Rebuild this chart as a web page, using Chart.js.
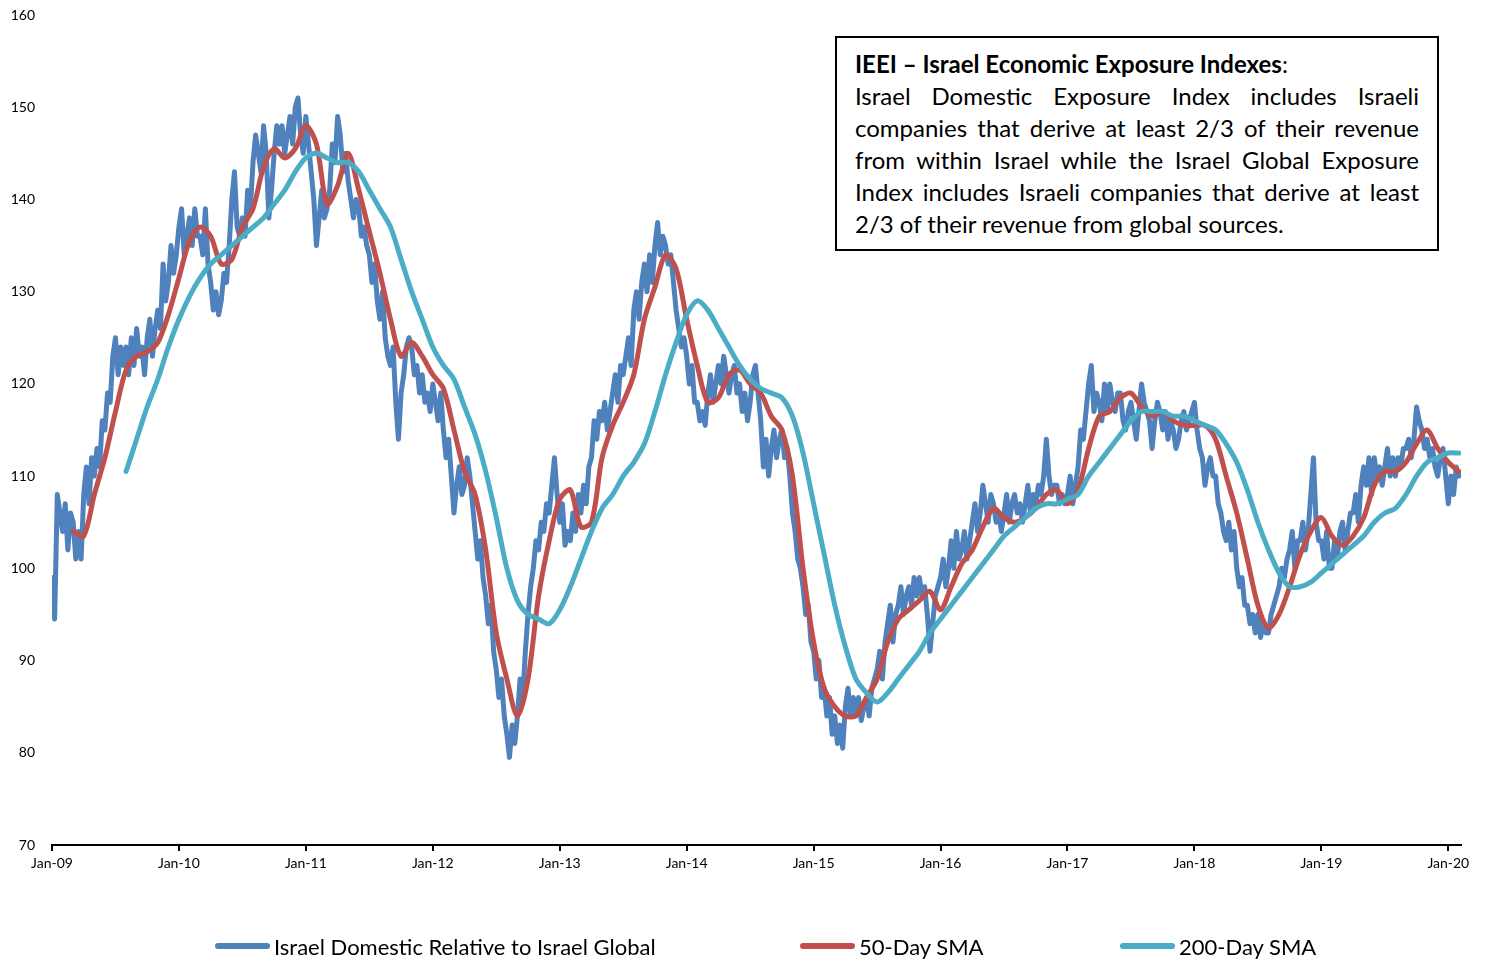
<!DOCTYPE html>
<html>
<head>
<meta charset="utf-8">
<script src="https://cdn.jsdelivr.net/npm/chart.js@4.4.1/dist/chart.umd.min.js"></script>
<style>
  body { margin: 0; background: #fff; }
  #wrap { position: relative; width: 1486px; height: 961px; font-family: Lato, "Open Sans", sans-serif; color: #000; }
  #lineChart { position: absolute; left: 0; top: 0; }
  .note { position: absolute; left: 835px; top: 36px; width: 604px; height: 215px; box-sizing: border-box;
          border: 2px solid #000; padding: 10px 18px 0 18px; font-size: 24px; background: #fff; }
  .note div { line-height: 32px; white-space: nowrap; }
  .note .j { text-align: justify; text-align-last: justify; }
  .legend-item { position: absolute; top: 933px; height: 26px; display: flex; align-items: center; font-size: 22px; }
  .legend-item span.sw { display: inline-block; width: 55px; height: 6px; border-radius: 3px; margin-right: 4px; }
</style>
</head>
<body>
<div id="wrap">
  <canvas id="lineChart" width="1486" height="961"></canvas>
  <div class="note">
    <div><b>IEEI – Israel Economic Exposure Indexes</b>:</div>
    <div class="j">Israel Domestic Exposure Index includes Israeli</div>
    <div class="j">companies that derive at least 2/3 of their revenue</div>
    <div class="j">from within Israel while the Israel Global Exposure</div>
    <div class="j">Index includes Israeli companies that derive at least</div>
    <div>2/3 of their revenue from global sources.</div>
  </div>
  <div id="legend"></div>
</div>
<script>
// x axis tick labels, one per January
const tickLabels = ['Jan-09', 'Jan-10', 'Jan-11', 'Jan-12', 'Jan-13', 'Jan-14',
                    'Jan-15', 'Jan-16', 'Jan-17', 'Jan-18', 'Jan-19', 'Jan-20'];

const seriesNames = ['Israel Domestic Relative to Israel Global', '50-Day SMA', '200-Day SMA'];
const seriesColors = ['#4F81BD', '#C0504D', '#4BACC6'];

// ratio index, read about weekly (4 per month) starting Jan 2009, one row per year
const domesticStart = 2009;
const domestic = [
  99, 94.5, 108, 106, 104, 107, 102, 106, 105, 101, 104, 101, 108, 111, 107, 112, 110, 113, 111, 116, 115, 119, 118, 123,
  125, 121, 124, 122, 124, 121, 125, 122, 126, 123, 124, 121, 125, 127, 123, 126, 128, 126, 133, 129, 131, 135, 132, 134,

  137, 139, 134, 136, 138, 135, 139, 136, 136, 134, 139, 133, 131, 128, 130, 127.5, 129, 132, 131, 135, 140, 143, 137, 136,
  138, 136, 141, 139, 144, 147, 145, 143, 148, 145, 138, 141, 145, 148, 146, 148, 145, 147, 149, 146, 150, 151, 147, 145,

  149, 146, 143, 140, 135, 138, 141, 138, 139, 141, 146, 144, 149, 147, 143, 145, 142, 140, 138, 140, 139, 136, 137, 135,
  134, 131, 133, 129, 127, 130, 125, 123, 122, 124, 118, 114, 119, 121, 124, 125, 124, 121, 122, 119, 121, 118, 119, 117,

  120, 118, 116, 119, 115, 112, 114, 110, 106, 109, 111, 108, 109, 112, 110, 107, 104, 101, 103, 99, 97, 94, 96, 91,
  89, 86, 88, 84, 82, 79.5, 83, 81, 84, 88, 86, 91, 95, 98, 100, 103, 102, 105, 104, 107, 106, 109, 112, 108,

  105, 107, 102.5, 104, 103, 106, 104, 108, 106, 109, 107, 111, 112, 116, 114, 117, 116, 118, 115, 117, 119, 121, 118, 122,
  121, 123, 125, 122, 128, 130, 127, 131, 133, 130, 134, 131, 135, 137.5, 134, 136, 135, 133, 134, 131, 128, 126, 124, 125,

  123, 120, 122, 118, 118, 116, 117, 115.5, 119, 121, 118, 120, 122, 120, 123, 121, 119, 121, 122, 119, 120, 117, 119, 116,
  118, 121, 122, 119, 116, 111, 114, 110, 113, 115, 112, 114, 115, 112, 113, 110, 106, 104, 101, 100, 98, 95, 96, 92,

  91, 88, 90, 86, 87, 84, 86, 82, 84, 81, 83, 80.5, 85, 87, 84, 86, 84, 86, 83.5, 85, 86, 84, 87, 88,
  89, 91, 88, 92, 94, 96, 92, 95, 96, 98, 95, 97, 98, 96, 99, 97, 99, 97, 98, 95, 91, 94, 97, 98,

  99, 101, 98, 100, 103, 100, 104, 101, 102, 104, 101, 103, 105, 107, 104, 106, 109, 107, 105, 108, 107, 105, 106, 104,
  106, 108, 105, 107, 108, 106, 107, 105, 107, 109, 106, 108, 107, 109, 108, 110, 114, 110, 108, 109, 109, 107, 108, 107,

  108, 110, 107, 109, 111, 115, 114, 117, 120, 122, 117, 119, 118, 116, 120, 117, 120, 118, 117, 119, 119, 116, 115, 117,
  118, 116, 114, 117, 120, 118, 117, 116, 113, 116, 118, 117, 115, 117, 114, 116, 115, 113, 114, 116, 117, 115, 116, 117,

  118, 115, 113, 112, 109, 111, 112, 110, 110, 107, 106, 104, 103, 105, 102, 104, 100, 98, 99, 96, 96, 94, 95, 93,
  95, 92.5, 94, 93, 93, 95, 96, 97, 98, 100, 99, 101, 102, 104, 100, 103, 103, 105, 102, 104, 108, 112, 105, 103,

  103, 101, 104, 100, 100, 103, 101, 104, 105, 102, 104, 106, 106, 108, 105, 109, 111, 109, 112, 108, 112, 110, 111, 109,
  111, 113, 110, 112, 110, 112, 111, 113, 113, 114, 112, 114, 117.5, 116, 115, 113, 114, 112, 113, 111, 110, 112, 113, 110,

  107, 110, 108, 111, 110
];

// 50-day moving average, monthly from Mar 2009
const sma50Start = 2009 + 2 / 12;
const sma50 = [
  104, 103.5, 108, 112, 117, 121.5, 123, 123.5, 124.5, 127.5,
  131.5, 135.5, 137, 136, 133, 133.5, 137, 139, 143.5, 145.5, 144.5, 145.5,
  148, 146, 139.5, 141.5, 145, 141, 136.5, 132, 127, 123, 124.5, 123,
  121, 119.5, 115, 110.5, 108, 102, 93, 88, 84, 88, 97, 103,
  107.5, 108.5, 104.5, 105, 112, 115.5, 118, 121, 127, 130.5, 134, 132.5,
  127, 122, 118, 118.5, 121, 121.5, 120, 119, 116.5, 115, 110, 100,
  92, 87, 85, 84, 84, 86, 88, 92, 94.5, 95.5, 96.5, 97.5,
  95.5, 98, 100.5, 102, 104.5, 106.5, 105.5, 105, 105.5, 106.5, 108, 108.5,
  107, 108.5, 113, 116.5, 117, 118.5, 119, 117.5, 116.5, 117, 116, 115.5,
  115.5, 115.5, 114, 110, 106, 101, 96, 93.5, 95, 98, 101.5, 104,
  105.5, 103.5, 102.5, 103.5, 105.5, 109, 110.5, 110.5, 111.5, 113.5, 115, 113,
  111.5, 110.5
];

// 200-day moving average, monthly from Aug 2009
const sma200Start = 2009 + 7 / 12;
const sma200 = [
  110.5, 114, 117.5, 120.5, 124,
  127, 129.5, 131.5, 133, 134, 135, 136, 137, 138, 139.5, 141, 143,
  144.5, 145, 144.5, 144, 144, 143, 141, 139, 137, 133.5, 130, 127,
  124, 122, 120.5, 117.5, 114.5, 110.5, 105.5, 100, 96.5, 95, 94.5, 94,
  95.5, 98, 101, 104, 106.5, 108, 110, 111.5, 113.5, 117, 121, 124.5,
  127.5, 129, 128, 126, 124, 122, 120.5, 119.5, 119, 118.5, 116.5, 112.5,
  107, 101.5, 96, 91.5, 88, 86.5, 85.5, 86.5, 88, 89.5, 91, 93,
  94.5, 96, 97.5, 99, 100.5, 102, 103.5, 104.5, 105.5, 106.5, 107, 107,
  107.5, 108, 110, 111.5, 113, 114.5, 116, 117, 117, 117, 116.5, 116.5,
  116, 115.5, 115, 113.5, 111.5, 108.5, 105, 102, 99.5, 98, 98, 98.5,
  99.5, 100.5, 101.5, 102.5, 103.5, 105, 106, 106.5, 108, 110, 111.5, 112,
  112.5, 112.5
];

function toPoints(start, perYear, values) {
  return values.map((v, i) => ({ x: start + i / perYear, y: v }));
}

const datasets = [
  { label: seriesNames[0], data: toPoints(domesticStart, 48, domestic), borderWidth: 5, tension: 0, order: 3 },
  { label: seriesNames[1], data: toPoints(sma50Start, 12, sma50), borderWidth: 5, tension: 0.3, order: 2 },
  { label: seriesNames[2], data: toPoints(sma200Start, 12, sma200), borderWidth: 5, tension: 0.3, order: 1 }
].map((d, i) => Object.assign(d, {
  borderColor: seriesColors[i],
  backgroundColor: seriesColors[i],
  pointRadius: 0,
  borderJoinStyle: 'round',
  borderCapStyle: 'round',
  fill: false
}));

new Chart(document.getElementById('lineChart'), {
  type: 'line',
  data: { datasets: datasets },
  options: {
    responsive: false,
    animation: false,
    layout: { padding: { left: 0, top: 15, right: 25, bottom: 0 } },
    plugins: { legend: { display: false }, tooltip: { enabled: false } },
    scales: {
      x: {
        type: 'linear',
        min: 2009,
        max: 2020.1,
        afterFit: (scale) => { scale.height = 116; },
        afterBuildTicks: (scale) => {
          scale.ticks = tickLabels.map((t, i) => ({ value: 2009 + i }));
        },
        border: { display: true, color: '#000', width: 2 },
        grid: { display: true, drawOnChartArea: false, drawTicks: true, tickLength: 6, color: '#000', lineWidth: 2 },
        ticks: {
          autoSkip: false,
          maxRotation: 0,
          padding: 4,
          color: '#000',
          font: { family: 'Lato', size: 14 },
          callback: (v) => tickLabels[Math.round(v - 2009)]
        }
      },
      y: {
        min: 70,
        max: 160,
        afterFit: (scale) => { scale.width = 52; },
        border: { display: false },
        // hidden tick marks only push the labels left of the plot
        grid: { display: false, drawTicks: true, tickLength: 17 },
        ticks: { stepSize: 10, padding: 0, color: '#000', font: { family: 'Lato', size: 14 } }
      }
    }
  }
});

// legend below the chart
const legendLeft = [215, 800, 1120];
const legend = document.getElementById('legend');
seriesNames.forEach((name, i) => {
  const item = document.createElement('div');
  item.className = 'legend-item';
  item.style.left = legendLeft[i] + 'px';
  item.innerHTML = '<span class="sw" style="background:' + seriesColors[i] + '"></span>' + name;
  legend.appendChild(item);
});
</script>
</body>
</html>
